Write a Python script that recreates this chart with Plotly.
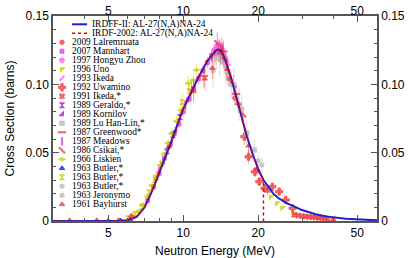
import math
import plotly.graph_objects as go

# ---------------- evaluated curves ----------------
irdff_e = [3.0, 5.0, 5.5, 6.0, 6.5, 7.0, 7.5, 8.0, 8.5, 9.0, 9.5, 10.0, 10.5, 11.0, 11.5, 12.0, 12.5,
           13.0, 13.5, 13.8, 14.2, 14.6, 15.0, 15.5, 16.0, 16.5, 17.0, 17.5, 18.0, 19.0, 20.0,
           21.0, 22.0, 23.0, 24.0, 26.0, 28.0, 30.0, 34.0, 38.0, 45.0, 52.0, 60.0]
irdff_s = [0.0, 0.0, 0.0001, 0.0006, 0.003, 0.010, 0.022, 0.035, 0.047, 0.059, 0.071, 0.082, 0.090,
           0.098, 0.105, 0.111, 0.117, 0.121, 0.1245, 0.1255, 0.1245, 0.120, 0.114, 0.106, 0.097,
           0.088, 0.079, 0.070, 0.062, 0.049, 0.038, 0.030, 0.0245, 0.020, 0.017, 0.013, 0.0105,
           0.008, 0.005, 0.0032, 0.0016, 0.0009, 0.0005]

irdf_e = [3.0, 5.0, 5.5, 6.0, 6.5, 7.0, 7.5, 8.0, 8.5, 9.0, 9.5, 10.0, 10.5, 11.0, 11.5, 12.0, 12.5,
          13.0, 13.5, 13.8, 14.2, 14.6, 15.0, 15.5, 16.0, 16.5, 17.0, 17.5, 18.0, 19.0, 20.0,
          21.0, 21.0]
irdf_s = [0.0, 0.0, 0.0001, 0.0006, 0.003, 0.010, 0.022, 0.035, 0.047, 0.059, 0.071, 0.082, 0.090,
          0.098, 0.105, 0.111, 0.117, 0.121, 0.1245, 0.1255, 0.1245, 0.120, 0.114, 0.106, 0.097,
          0.088, 0.079, 0.070, 0.062, 0.049, 0.038, 0.030, 0.0]

# ---------------- experimental data (E MeV, sigma b, d sigma b) ----------------
lalremruata_e = [13.4, 14.0, 14.6, 15.3, 16.1]
lalremruata_s = [0.121, 0.126, 0.118, 0.104, 0.090]
lalremruata_d = [0.007, 0.007, 0.006, 0.006, 0.005]

mannhart_e = [7.2, 7.6, 8.0, 8.4, 8.8, 9.2, 9.6, 10.0, 10.5, 11.0, 11.5, 12.0, 12.5, 13.0, 13.5, 14.0, 14.5]
mannhart_s = [0.015, 0.025, 0.035, 0.046, 0.055, 0.064, 0.071, 0.080, 0.089, 0.097, 0.104, 0.110, 0.116,
              0.121, 0.124, 0.125, 0.121]
mannhart_d = [0.001, 0.002, 0.002, 0.002, 0.003, 0.003, 0.003, 0.003, 0.003, 0.004, 0.004, 0.004, 0.004,
              0.004, 0.004, 0.004, 0.004]

hongyu_e = [13.3, 13.6, 13.9, 14.2, 14.5, 14.8]
hongyu_s = [0.125, 0.128, 0.129, 0.127, 0.122, 0.118]
hongyu_d = [0.004, 0.004, 0.004, 0.004, 0.004, 0.004]

uno_e = [22.5, 23.8, 25.0, 27.7]
uno_s = [0.0178, 0.013, 0.0097, 0.0049]
uno_d = [0.001, 0.001, 0.001, 0.0005]

ikeda93_e = [13.4, 13.9, 14.3, 14.7, 15.1]
ikeda93_s = [0.121, 0.127, 0.125, 0.119, 0.113]
ikeda93_d = [0.005, 0.005, 0.005, 0.005, 0.005]

uwamino_e = [17.6, 18.3, 19.4, 20.2, 21.2, 22.8, 24.3, 25.8, 27.5]
uwamino_s = [0.0617, 0.047, 0.036, 0.0288, 0.024, 0.0251, 0.0215, 0.0154, 0.0093]
uwamino_d = [0.006, 0.005, 0.004, 0.003, 0.003, 0.002, 0.002, 0.002, 0.001]

ikeda91_e = [28.0, 29.0, 30.0, 31.0, 32.0, 33.0, 34.0, 35.0, 36.0, 37.0, 38.0, 40.0]
ikeda91_s = [0.0045, 0.004, 0.0036, 0.0033, 0.003, 0.0028, 0.0026, 0.0024, 0.0022, 0.002, 0.0018, 0.0015]
ikeda91_d = [0.0005] * 12

geraldo_e = [8.6, 9.1, 9.7, 14.1, 14.6]
geraldo_s = [0.051, 0.063, 0.076, 0.123, 0.117]
geraldo_d = [0.003, 0.003, 0.004, 0.005, 0.005]

kornilov_e = [7.8, 8.3, 8.8, 9.3]
kornilov_s = [0.031, 0.043, 0.055, 0.066]
kornilov_d = [0.002, 0.003, 0.003, 0.003]

luhanlin_e = [13.6, 14.1, 14.6, 15.6, 16.8, 18.0, 19.3]
luhanlin_s = [0.119, 0.122, 0.116, 0.100, 0.085, 0.0644, 0.052]
luhanlin_d = [0.008, 0.008, 0.008, 0.010, 0.012, 0.009, 0.008]

greenwood_e = [10.8, 12.1, 14.5, 16.3]
greenwood_s = [0.096, 0.106, 0.124, 0.093]
greenwood_d = [0.008, 0.008, 0.008, 0.007]

meadows_e = [8.0, 9.0, 10.2, 13.0, 14.4]
meadows_s = [0.037, 0.058, 0.085, 0.120, 0.126]
meadows_d = [0.002, 0.003, 0.004, 0.004, 0.004]

csikai_e = [13.7, 14.3, 14.8, 15.9, 17.4]
csikai_s = [0.130, 0.126, 0.118, 0.100, 0.078]
csikai_d = [0.008, 0.008, 0.007, 0.007, 0.006]

liskien_e = [6.3, 6.6, 6.9, 7.2, 7.5, 7.8, 8.1, 8.4, 8.7, 9.0, 9.4, 9.8, 10.5, 11.0, 11.3]
liskien_s = [0.003, 0.007, 0.012, 0.018, 0.026, 0.033, 0.041, 0.049, 0.057, 0.064, 0.073, 0.081, 0.1008,
             0.103, 0.1105]
liskien_d = [0.001, 0.001, 0.002, 0.002, 0.002, 0.003, 0.003, 0.003, 0.003, 0.004, 0.004, 0.004, 0.005,
             0.005, 0.005]

butler1_e = [5.0, 5.6, 6.1]
butler1_s = [0.0002, 0.0004, 0.0012]
butler1_d = [0.0002, 0.0002, 0.0003]

butler2_e = [6.0, 6.4, 6.8, 7.3, 7.7, 8.2, 9.9, 10.6]
butler2_s = [0.002, 0.005, 0.010, 0.021, 0.030, 0.042, 0.087, 0.095]
butler2_d = [0.001, 0.001, 0.002, 0.002, 0.002, 0.003, 0.006, 0.006]

butler3_e = [14.8, 16.0, 17.2, 20.7]
butler3_s = [0.113, 0.100, 0.082, 0.041]
butler3_d = [0.012, 0.012, 0.010, 0.006]

jeronymo_e = [13.2, 14.0, 15.0, 20.0]
jeronymo_s = [0.110, 0.118, 0.108, 0.044]
jeronymo_d = [0.012, 0.012, 0.010, 0.006]

bayhurst_e = [3.5, 4.5, 5.5, 6.2, 11.0, 12.2, 13.1, 14.1, 15.0, 16.6, 18.3, 19.8, 21.8]
bayhurst_s = [0.0005, 0.0005, 0.0006, 0.004, 0.095, 0.104, 0.112, 0.123, 0.111, 0.086, 0.055, 0.038, 0.022]
bayhurst_d = [0.0003, 0.0003, 0.0003, 0.001, 0.008, 0.008, 0.008, 0.008, 0.008, 0.007, 0.005, 0.004, 0.003]

curve_labels = ["IRDFF-II: AL-27(N,A)NA-24", "IRDF-2002: AL-27(N,A)NA-24"]
exp_labels = ["2009 Lalremruata", "2007 Mannhart", "1997 Hongyu Zhou", "1996 Uno", "1993 Ikeda",
              "1992 Uwamino", "1991 Ikeda,*", "1989 Geraldo,*", "1989 Kornilov", "1989 Lu Han-Lin,*",
              "1987 Greenwood*", "1987 Meadows", "1986 Csikai,*", "1966 Liskien", "1963 Butler,*",
              "1963 Butler,*", "1963 Butler,*", "1963 Jeronymo", "1961 Bayhurst"]

x_ticks = [5, 10, 20, 50]
x_minor = [4, 6, 7, 8, 9, 30, 40]
y_ticks = [0, 0.05, 0.10, 0.15]
y_ticktext = ["0", "0.05", "0.10", "0.15"]

# ---------------- styles ----------------
RED = "rgb(238,60,60)"
MAG = "rgb(220,60,220)"
PINK = "rgb(255,90,255)"
YEL = "rgb(205,205,0)"
PUR = "rgb(150,40,190)"
GRY = "rgb(190,190,190)"
BLU = "rgb(30,30,210)"

datasets = [
    (lalremruata_e, lalremruata_s, lalremruata_d, "circle", RED, 4.5),
    (mannhart_e, mannhart_s, mannhart_d, "square", MAG, 4),
    (hongyu_e, hongyu_s, hongyu_d, "octagon", PINK, 5),
    (uno_e, uno_s, uno_d, "triangle-nw", YEL, 5),
    (ikeda93_e, ikeda93_s, ikeda93_d, "line-ne-open", PINK, 5),
    (uwamino_e, uwamino_s, uwamino_d, "cross", RED, 6),
    (ikeda91_e, ikeda91_s, ikeda91_d, "x", RED, 5),
    (geraldo_e, geraldo_s, geraldo_d, "hourglass", PUR, 5),
    (kornilov_e, kornilov_s, kornilov_d, "triangle-se", PUR, 5),
    (luhanlin_e, luhanlin_s, luhanlin_d, "square-x", GRY, 4.5),
    (greenwood_e, greenwood_s, greenwood_d, "line-ew-open", RED, 6),
    (meadows_e, meadows_s, meadows_d, "line-ns-open", MAG, 6),
    (csikai_e, csikai_s, csikai_d, "line-nw-open", RED, 6),
    (liskien_e, liskien_s, liskien_d, "diamond-wide", YEL, 5),
    (butler1_e, butler1_s, butler1_d, "triangle-up", BLU, 5),
    (butler2_e, butler2_s, butler2_d, "hourglass", YEL, 5),
    (butler3_e, butler3_s, butler3_d, "circle", GRY, 4.5),
    (jeronymo_e, jeronymo_s, jeronymo_d, "circle-x", GRY, 4.5),
    (bayhurst_e, bayhurst_s, bayhurst_d, "triangle-up", RED, 5),
]


def faded(c, a=0.5):
    return c.replace("rgb(", "rgba(").replace(")", ",%s)" % a)


fig = go.Figure()

for e, s, d, sym, col, size in datasets:
    is_open = sym.startswith("line")
    fig.add_trace(go.Scatter(
        x=e, y=s, mode="markers",
        error_y=dict(type="data", array=d, color=faded(col), thickness=1, width=0),
        marker=dict(symbol=sym, color=faded(col, 0.75), size=size,
                    line=dict(color=col, width=2.2 if is_open else 0.7)),
        showlegend=False, hoverinfo="skip"))

fig.add_trace(go.Scatter(x=irdff_e, y=irdff_s, mode="lines", line=dict(color=BLU, width=2),
                         showlegend=False, hoverinfo="skip"))
fig.add_trace(go.Scatter(x=irdf_e, y=irdf_s, mode="lines", line=dict(color="rgb(230,0,0)", width=1.5, dash="dot"),
                         showlegend=False, hoverinfo="skip"))

# empty trace so that the mirrored (top/right) axes are drawn
fig.add_trace(go.Scatter(x=[None], y=[None], xaxis="x2", yaxis="y2", showlegend=False, hoverinfo="skip"))

# ---------------- custom compact legend on a pixel-scaled overlay axis ----------------
row0, step = 24.3, 9.0
rows = [row0 + step * i for i in range(len(curve_labels) + len(exp_labels))]
fig.add_trace(go.Scatter(x=[72, 87], y=[rows[0], rows[0]], mode="lines", line=dict(color=BLU, width=2),
                         xaxis="x3", yaxis="y3", showlegend=False, hoverinfo="skip"))
fig.add_trace(go.Scatter(x=[72, 87], y=[rows[1], rows[1]], mode="lines",
                         line=dict(color="rgb(230,0,0)", width=1.5, dash="dot"),
                         xaxis="x3", yaxis="y3", showlegend=False, hoverinfo="skip"))
for i, (e, s, d, sym, col, size) in enumerate(datasets):
    is_open = sym.startswith("line")
    fig.add_trace(go.Scatter(x=[62], y=[rows[i + 2]], mode="markers",
                             marker=dict(symbol=sym, color=faded(col, 0.75), size=size,
                                         line=dict(color=col, width=2.2 if is_open else 0.7)),
                             xaxis="x3", yaxis="y3", showlegend=False, hoverinfo="skip"))

annotations = []
for i, lab in enumerate(curve_labels):
    annotations.append(dict(x=90, y=rows[i], xref="x3", yref="y3", text=lab, showarrow=False,
                            xanchor="left", yanchor="middle",
                            font=dict(family="Liberation Serif", size=9.4, color="black")))
for i, lab in enumerate(exp_labels):
    annotations.append(dict(x=70, y=rows[i + 2], xref="x3", yref="y3", text=lab, showarrow=False,
                            xanchor="left", yanchor="middle",
                            font=dict(family="Liberation Serif", size=9.4, color="black")))

AX = "#555555"
tickfont = dict(family="Liberation Sans", size=12, color="black")
titlefont = dict(family="Liberation Sans", size=12, color="black")
xr = [math.log10(3), math.log10(60)]
common_x = dict(type="log", range=xr, tickvals=x_ticks, ticktext=[str(v) for v in x_ticks],
                ticks="inside", ticklen=6, tickwidth=1, tickcolor=AX, showline=True, linecolor=AX,
                linewidth=1.5, showgrid=False, zeroline=False, tickfont=tickfont, automargin=False,
                minor=dict(tickvals=x_minor, ticks="inside", ticklen=3, tickcolor=AX, showgrid=False))
common_y = dict(range=[0, 0.15], tickvals=y_ticks, ticktext=y_ticktext, ticks="inside", ticklen=6,
                tickwidth=1, tickcolor=AX, showline=True, linecolor=AX, linewidth=1.5, showgrid=False,
                zeroline=False, tickfont=tickfont, automargin=False,
                minor=dict(dtick=0.01, ticks="inside", ticklen=3, tickcolor=AX, showgrid=False))

fig.update_layout(
    template="none",
    width=415, height=258, margin=dict(l=53, r=38, t=16, b=37),
    paper_bgcolor="white", plot_bgcolor="white", showlegend=False,
    xaxis=dict(**common_x, side="bottom", anchor="y",
               title=dict(text="Neutron Energy (MeV)", font=titlefont, standoff=8)),
    xaxis2=dict(**common_x, side="top", overlaying="x", anchor="y", ticklabelstandoff=-6),
    yaxis=dict(**common_y, side="left", anchor="x",
               title=dict(text="Cross Section (barns)", font=titlefont, standoff=8)),
    yaxis2=dict(**common_y, side="right", overlaying="y", anchor="x"),
    xaxis3=dict(range=[53, 377], overlaying="x", visible=False, anchor="y3", automargin=False),
    yaxis3=dict(range=[221, 16], overlaying="y", visible=False, anchor="x3", automargin=False),
    annotations=annotations,
)

# the page's default 8px body margin would shift the fixed-size figure; remove it
fig.write_html("out.html", config={"displayModeBar": False},
               post_script="document.body.style.margin='0px';")
